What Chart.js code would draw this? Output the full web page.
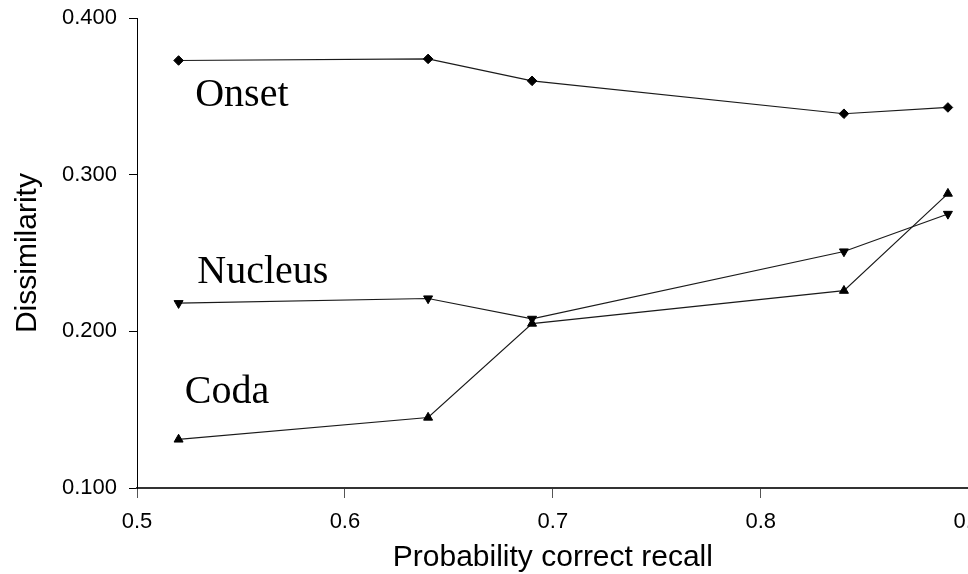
<!DOCTYPE html>
<html>
<head>
<meta charset="utf-8">
<title>Dissimilarity vs recall</title>
<script src="https://cdn.jsdelivr.net/npm/chart.js@4/dist/chart.umd.min.js"></script>
<style>
  html, body { margin: 0; padding: 0; background: #fff; overflow: hidden; }
  #wrap { position: relative; width: 968px; height: 574px; overflow: hidden; }
  #chart { position: absolute; left: 0; top: -7px; }
</style>
</head>
<body>
<div id="wrap"><canvas id="chart" width="995" height="581"></canvas></div>
<script>
// values
const recall = [0.52, 0.64, 0.69, 0.84, 0.89];
const onset = [0.373, 0.374, 0.360, 0.339, 0.343];
const nucleus = [0.218, 0.221, 0.208, 0.251, 0.275];
const coda = [0.131, 0.145, 0.205, 0.226, 0.288];

const xTicks = [0.5, 0.6, 0.7, 0.8, 0.9];
const yTicks = [0.1, 0.2, 0.3, 0.4];

// series names written next to the curves (data coords of text start / baseline)
const seriesLabels = [
  { text: 'Onset', x: 0.528, y: 0.344 },
  { text: 'Nucleus', x: 0.529, y: 0.231 },
  { text: 'Coda', x: 0.523, y: 0.154 }
];

function points(ys) {
  return recall.map((x, i) => ({ x: x, y: ys[i] }));
}

Chart.defaults.font.family = "'Liberation Sans', Arial, sans-serif";
Chart.defaults.color = '#000';

const lineColor = '#1a1a1a';

const curveText = {
  id: 'curveText',
  afterDatasetsDraw(chart) {
    const ctx = chart.ctx;
    const xs = chart.scales.x;
    const ys = chart.scales.y;
    ctx.save();
    ctx.font = "40px 'Liberation Serif', 'Times New Roman', serif";
    ctx.fillStyle = '#000';
    ctx.textAlign = 'left';
    ctx.textBaseline = 'alphabetic';
    seriesLabels.forEach(l => {
      ctx.fillText(l.text, xs.getPixelForValue(l.x), ys.getPixelForValue(l.y));
    });
    ctx.restore();
  }
};

new Chart(document.getElementById('chart'), {
  type: 'line',
  data: {
    datasets: [
      {
        label: 'Onset',
        data: points(onset),
        borderColor: lineColor,
        borderWidth: 1.2,
        pointStyle: 'rectRot',
        pointRadius: 4.8,
        pointBackgroundColor: '#000',
        pointBorderColor: '#000',
        pointBorderWidth: 1
      },
      {
        label: 'Nucleus',
        data: points(nucleus),
        borderColor: lineColor,
        borderWidth: 1.2,
        pointStyle: 'triangle',
        pointRotation: 180,
        pointRadius: 5.2,
        pointBackgroundColor: '#000',
        pointBorderColor: '#000',
        pointBorderWidth: 1
      },
      {
        label: 'Coda',
        data: points(coda),
        borderColor: lineColor,
        borderWidth: 1.2,
        pointStyle: 'triangle',
        pointRadius: 5.2,
        pointBackgroundColor: '#000',
        pointBorderColor: '#000',
        pointBorderWidth: 1
      }
    ]
  },
  options: {
    responsive: false,
    animation: false,
    clip: false,
    layout: { padding: { left: 0, right: 0, top: 0, bottom: 0 } },
    plugins: {
      legend: { display: false },
      tooltip: { enabled: false }
    },
    scales: {
      x: {
        type: 'linear',
        min: 0.5,
        max: 0.9,
        afterBuildTicks: s => { s.ticks = xTicks.map(v => ({ value: v })); },
        afterFit: s => { s.height = 86; },
        border: { display: true, color: '#333', width: 2 },
        grid: { drawOnChartArea: false, drawTicks: true, tickLength: 10, color: '#555', lineWidth: 1 },
        ticks: {
          padding: 11,
          font: { size: 22 },
          callback: v => Number(v).toFixed(1)
        },
        title: {
          display: true,
          text: 'Probability correct recall',
          font: { size: 30 },
          padding: { top: 0, bottom: -2 }
        }
      },
      y: {
        type: 'linear',
        min: 0.1,
        max: 0.4,
        afterBuildTicks: s => { s.ticks = yTicks.map(v => ({ value: v })); },
        afterFit: s => { s.width = 137; },
        border: { display: true, color: '#000', width: 1 },
        grid: { drawOnChartArea: false, drawTicks: true, tickLength: 8, color: '#000', lineWidth: 1 },
        ticks: {
          padding: 12,
          font: { size: 22 },
          callback: v => Number(v).toFixed(3)
        },
        title: {
          display: true,
          text: 'Dissimilarity',
          font: { size: 30 },
          padding: { top: 10, bottom: 0 }
        }
      }
    }
  },
  plugins: [curveText]
});
</script>
</body>
</html>
